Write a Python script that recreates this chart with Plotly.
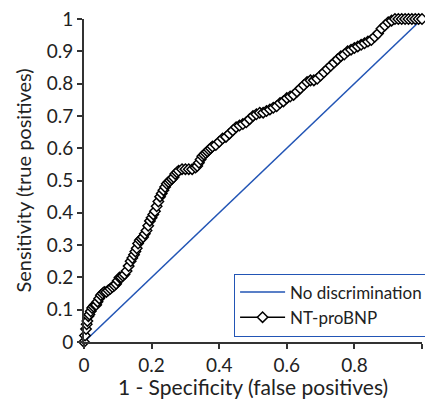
import plotly.graph_objects as go

fpr = [0, 0.003, 0.006, 0.008, 0.01, 0.013, 0.016, 0.02, 0.024, 0.028, 0.032, 0.036, 0.04, 0.045,
       0.05, 0.055, 0.06, 0.066, 0.072, 0.078, 0.084, 0.09, 0.095, 0.1, 0.105, 0.11, 0.115, 0.12,
       0.126, 0.132, 0.138, 0.143, 0.148, 0.152, 0.156, 0.16, 0.165, 0.17, 0.175, 0.18, 0.185, 0.19,
       0.195, 0.2, 0.205, 0.21, 0.215, 0.22, 0.225, 0.23, 0.235, 0.24, 0.245, 0.25, 0.255, 0.26,
       0.265, 0.27, 0.275, 0.28, 0.29, 0.3, 0.31, 0.32, 0.33, 0.335, 0.34, 0.345, 0.35, 0.355, 0.36,
       0.365, 0.37, 0.375, 0.38, 0.39, 0.4, 0.41, 0.42, 0.43, 0.44, 0.45, 0.46, 0.47, 0.48, 0.49,
       0.5, 0.51, 0.52, 0.53, 0.54, 0.55, 0.56, 0.57, 0.58, 0.59, 0.6, 0.61, 0.62, 0.63, 0.64, 0.65,
       0.66, 0.67, 0.68, 0.69, 0.7, 0.71, 0.72, 0.73, 0.74, 0.75, 0.76, 0.77, 0.78, 0.79, 0.8, 0.81,
       0.82, 0.83, 0.84, 0.85, 0.86, 0.87, 0.88, 0.89, 0.9, 0.91, 0.92, 0.93, 0.94, 0.95, 0.96, 0.97,
       0.98, 0.99, 1.0]
tpr = [0, 0.02, 0.04, 0.055, 0.065, 0.08, 0.085, 0.095, 0.105, 0.11, 0.115, 0.115, 0.125, 0.135,
       0.145, 0.15, 0.155, 0.155, 0.16, 0.165, 0.17, 0.175, 0.18, 0.19, 0.2, 0.2, 0.205, 0.21,
       0.22, 0.235, 0.25, 0.26, 0.27, 0.28, 0.29, 0.305, 0.315, 0.32, 0.325, 0.335, 0.345, 0.36,
       0.375, 0.385, 0.395, 0.405, 0.42, 0.435, 0.45, 0.46, 0.47, 0.48, 0.49, 0.495, 0.5, 0.505,
       0.51, 0.52, 0.525, 0.53, 0.535, 0.535, 0.535, 0.535, 0.54, 0.545, 0.555, 0.565, 0.575, 0.58, 0.585,
       0.59, 0.595, 0.6, 0.605, 0.61, 0.62, 0.63, 0.635, 0.645, 0.655, 0.665, 0.67, 0.675, 0.68, 0.69,
       0.7, 0.705, 0.71, 0.71, 0.715, 0.72, 0.725, 0.73, 0.74, 0.745, 0.755, 0.76, 0.765, 0.775, 0.785, 0.795,
       0.805, 0.81, 0.81, 0.815, 0.825, 0.835, 0.845, 0.855, 0.865, 0.875, 0.885, 0.89, 0.9, 0.905, 0.91, 0.915,
       0.92, 0.925, 0.93, 0.935, 0.945, 0.955, 0.97, 0.98, 0.99, 0.995, 1.0, 1.0, 1.0, 1.0, 1.0, 1.0,
       1.0, 1.0, 1.0]

diag_x = [0, 1]
diag_y = [0, 1]

x_ticks = [0, 0.2, 0.4, 0.6, 0.8, 1]
x_tick_labels = ["0", "0.2", "0.4", "0.6", "0.8", "1"]
y_ticks = [0, 0.1, 0.2, 0.3, 0.4, 0.5, 0.6, 0.7, 0.8, 0.9, 1]
y_tick_labels = ["0", "0.1", "0.2", "0.3", "0.4", "0.5", "0.6", "0.7", "0.8", "0.9", "1"]

FONT = "Lato"
BLUE = "#2255b5"
fig = go.Figure()
fig.add_trace(go.Scatter(x=diag_x, y=diag_y, mode="lines", name="No discrimination",
                         line=dict(color=BLUE, width=1.5)))
fig.add_trace(go.Scatter(x=fpr, y=tpr, mode="lines+markers", name="NT-proBNP",
                         line=dict(color="black", width=1.5),
                         marker=dict(symbol="diamond", size=8, color="white",
                                     line=dict(color="black", width=1.5)),
                         cliponaxis=False))

fig.update_layout(
    width=425, height=399,
    margin=dict(l=84, r=3, t=19, b=57, autoexpand=False),
    plot_bgcolor="white", paper_bgcolor="white",
    font=dict(family=FONT, size=19, color="#222"),
    showlegend=True,
    legend=dict(x=1.018, y=0.212, xanchor="right", yanchor="top",
                bordercolor=BLUE, borderwidth=1, bgcolor="white",
                font=dict(family=FONT, size=17, color="#222"),
                tracegroupgap=0, itemwidth=45),
    xaxis=dict(range=[0, 1], tickvals=x_ticks, ticktext=x_tick_labels, automargin=False,
               showgrid=False, zeroline=False, showline=True, linecolor="#333", linewidth=2,
               ticks="outside", ticklen=5, tickcolor="#333", tickwidth=1.5,
               title=dict(text="1 - Specificity (false positives)", font=dict(size=21), standoff=4)),
    yaxis=dict(range=[0, 1], tickvals=y_ticks, ticktext=y_tick_labels, automargin=False,
               showgrid=False, zeroline=False, showline=True, linecolor="#333", linewidth=2,
               ticks="outside", ticklen=5, tickcolor="#333", tickwidth=1.5,
               title=dict(text="Sensitivity (true positives)", font=dict(size=20), standoff=10)),
)

fig.write_html("out.html", config={"displayModeBar": False},
               post_script="document.body.style.margin='0';document.body.style.overflow='hidden';")
